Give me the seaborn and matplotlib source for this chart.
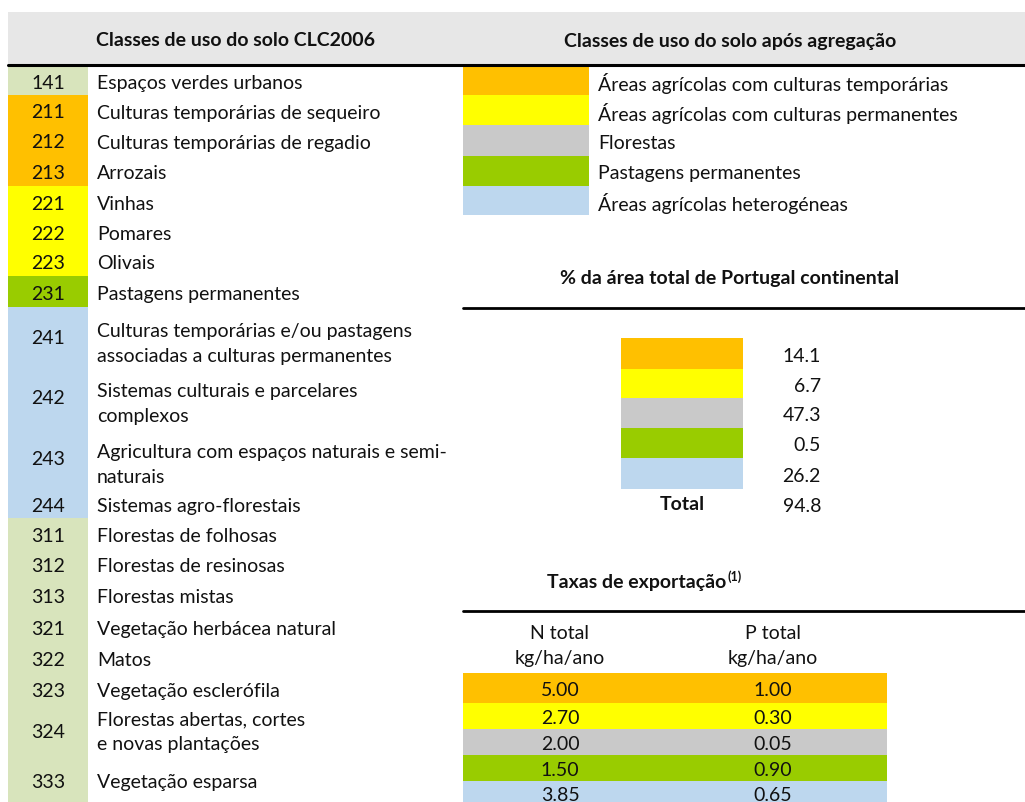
import matplotlib
matplotlib.use("Agg")
import matplotlib.pyplot as plt
import seaborn as sns
from matplotlib.patches import Rectangle

# CLC2006 classes (left table)
codes = ["141", "211", "212", "213", "221", "222", "223", "231",
         "241", "242", "243", "244",
         "311", "312", "313", "321", "322", "323", "324", "333"]
descriptions = [
    "Espaços verdes urbanos",
    "Culturas temporárias de sequeiro",
    "Culturas temporárias de regadio",
    "Arrozais",
    "Vinhas",
    "Pomares",
    "Olivais",
    "Pastagens permanentes",
    "Culturas temporárias e/ou pastagens\nassociadas a culturas permanentes",
    "Sistemas culturais e parcelares\ncomplexos",
    "Agricultura com espaços naturais e semi-\nnaturais",
    "Sistemas agro-florestais",
    "Florestas de folhosas",
    "Florestas de resinosas",
    "Florestas mistas",
    "Vegetação herbácea natural",
    "Matos",
    "Vegetação esclerófila",
    "Florestas abertas, cortes\ne novas plantações",
    "Vegetação esparsa",
]
code_group = ["urb", "temp", "temp", "temp", "perm", "perm", "perm", "past",
              "het", "het", "het", "het",
              "nat", "nat", "nat", "nat", "nat", "nat", "nat", "nat"]

# aggregated classes
agg_classes = ["Áreas agrícolas com culturas temporárias",
               "Áreas agrícolas com culturas permanentes",
               "Florestas",
               "Pastagens permanentes",
               "Áreas agrícolas heterogéneas"]
agg_keys = ["temp", "perm", "for", "past", "het"]
pct_area = [14.1, 6.7, 47.3, 0.5, 26.2]
pct_total = 94.8
n_total = [5.00, 2.70, 2.00, 1.50, 3.85]
p_total = [1.00, 0.30, 0.05, 0.90, 0.65]

colors = {"urb": "#D8E4BC", "temp": "#FFC000", "perm": "#FFFF00",
          "for": "#C9C9C9", "past": "#99CC00", "het": "#BDD7EE",
          "nat": "#D8E4BC"}

sns.set_theme(style="white")
plt.rcParams["font.family"] = ["Lato", "DejaVu Sans"]

fig = plt.figure(figsize=(10.25, 8.03), dpi=100)
ax = fig.add_axes([0, 0, 1, 1])
ax.set_xlim(0, 1025)
ax.set_ylim(803, 0)
ax.axis("off")

FS = 14
TXT = "#111111"
LS = 1.55

# header band
ax.add_patch(Rectangle((8, 13), 1017, 52, color="#E7E7E7", lw=0))
ax.plot([8, 1025], [65.5, 65.5], color="black", lw=2.2)
ax.text(236, 41, "Classes de uso do solo CLC2006", ha="center", va="center",
        fontsize=FS, fontweight="bold", color=TXT)
ax.text(730, 41, "Classes de uso do solo após agregação", ha="center",
        va="center", fontsize=FS, fontweight="bold", color=TXT)

# left table row geometry (top, bottom)
row_edges = [67, 96, 126, 156, 187, 217, 247, 277, 308, 368, 428, 490, 519,
             550, 580, 612, 643, 674, 705, 758, 803]
for i, (code, desc, grp) in enumerate(zip(codes, descriptions, code_group)):
    y0, y1 = row_edges[i], row_edges[i + 1]
    ax.add_patch(Rectangle((8, y0), 80, y1 - y0, color=colors[grp], lw=0))
    if code == "333":
        yc = 783
    elif code in ("241", "242", "243", "324"):
        yc = (y0 + y1) / 2 + 1
    else:
        yc = (y0 + y1) / 2 + 2
    yd = yc + 5 if code in ("241", "242", "243") else yc
    ax.text(48, yc, code, ha="center", va="center", fontsize=FS, color=TXT)
    ax.text(97, yd, desc, ha="left", va="center", fontsize=FS,
            linespacing=LS, color=TXT)

# right legend
leg_edges = [67, 96, 126, 157, 187, 216]
for i, (name, key) in enumerate(zip(agg_classes, agg_keys)):
    y0, y1 = leg_edges[i], leg_edges[i + 1]
    ax.add_patch(Rectangle((463, y0), 126, y1 - y0, color=colors[key], lw=0))
    ax.text(598, (y0 + y1) / 2 + 2, name, ha="left", va="center",
            fontsize=FS, color=TXT)

# % area block
ax.text(730, 279, "% da área total de Portugal continental", ha="center",
        va="center", fontsize=FS, fontweight="bold", color=TXT)
ax.plot([463, 1025], [309, 309], color="black", lw=2)
pct_edges = [339, 370, 399, 429, 459, 490]
for i, (val, key) in enumerate(zip(pct_area, agg_keys)):
    y0, y1 = pct_edges[i], pct_edges[i + 1]
    ax.add_patch(Rectangle((621, y0), 122, y1 - y0, color=colors[key], lw=0))
    ax.text(821, (y0 + y1) / 2 + 2, f"{val:.1f}", ha="right", va="center",
            fontsize=FS, color=TXT)
ax.text(682, 505, "Total", ha="center", va="center", fontsize=FS,
        fontweight="bold", color=TXT)
ax.text(821, 507, f"{pct_total:.1f}", ha="right", va="center", fontsize=FS,
        color=TXT)

# export rates
ax.text(726, 583, "Taxas de exportação", ha="right", va="center",
        fontsize=FS, fontweight="bold", color=TXT)
ax.text(727, 577, "(1)", ha="left", va="center", fontsize=9,
        fontweight="bold", color=TXT)
ax.plot([463, 1025], [612, 612], color="black", lw=2)
ax.text(560, 646, "N total\nkg/ha/ano", ha="center", va="center",
        fontsize=FS, linespacing=LS, color=TXT)
ax.text(773, 646, "P total\nkg/ha/ano", ha="center", va="center",
        fontsize=FS, linespacing=LS, color=TXT)
rate_edges = [674, 704, 730, 756, 782, 808]
for i, (n, p, key) in enumerate(zip(n_total, p_total, agg_keys)):
    y0, y1 = rate_edges[i], rate_edges[i + 1]
    ax.add_patch(Rectangle((463, y0), 424, y1 - y0, color=colors[key], lw=0))
    yc = (y0 + y1) / 2 + 2 if i < 4 else 796
    ax.text(560, yc, f"{n:.2f}", ha="center", va="center", fontsize=FS,
            color=TXT)
    ax.text(773, yc, f"{p:.2f}", ha="center", va="center", fontsize=FS,
            color=TXT)

fig.savefig("out.png", dpi=100, facecolor="white")
plt.close(fig)
